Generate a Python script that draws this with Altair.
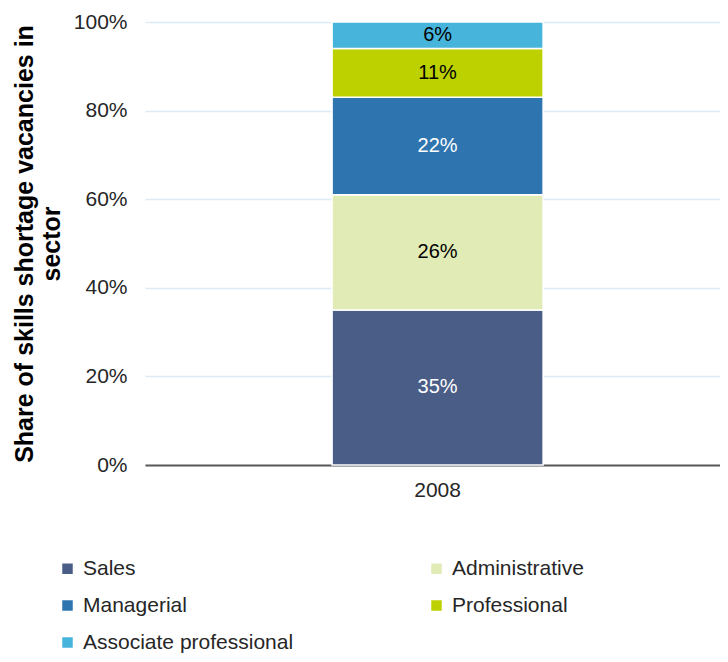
import altair as alt
import pandas as pd

years = ["2008"]
categories = ["Sales", "Administrative", "Managerial", "Professional", "Associate professional"]
values = [35, 26, 22, 11, 6]
colors = ["#4a5d87", "#e1ebb6", "#2e75b0", "#bdd100", "#47b4dc"]
label_colors = ["white", "black", "white", "black", "black"]

df = pd.DataFrame({
    "year": years * len(categories),
    "category": categories,
    "value": values,
    "order": list(range(len(categories))),
    "label": [f"{v}%" for v in values],
    "lc": label_colors,
})

FONT = "Liberation Sans"

base = alt.Chart(df).transform_stack(
    stack="value", groupby=["year"], as_=["y0", "y1"], sort=[alt.SortField("order")]
).transform_calculate(mid="(datum.y0 + datum.y1) / 2")

x_enc = alt.X("year:N", title=None,
              scale=alt.Scale(paddingInner=0, paddingOuter=0.8626, align=0.514),
              axis=alt.Axis(labelAngle=0, labelFontSize=21, labelColor="#262626",
                            labelPadding=14, ticks=False, domainColor="#595959",
                            domainWidth=2, labelFont=FONT))

bars = base.mark_bar(stroke="white", strokeWidth=1.5).encode(
    x=x_enc,
    y=alt.Y("y0:Q", title=["Share of skills shortage vacancies in", "sector"],
            scale=alt.Scale(domain=[0, 100]),
            axis=alt.Axis(values=[0, 20, 40, 60, 80, 100], labelExpr="datum.value + '%'",
                          labelFontSize=21, labelColor="#262626", labelFont=FONT,
                          labelPadding=18, ticks=False, domain=False,
                          gridColor="#dcebf6", gridWidth=1.5,
                          titleFontSize=25, titleFontWeight="bold", titleFont=FONT,
                          titleColor="#000000", titleX=-108, titleBaseline="bottom",
                          titleLineHeight=27)),
    y2="y1:Q",
    color=alt.Color("category:N",
                    scale=alt.Scale(domain=categories, range=colors),
                    legend=alt.Legend(title=None, orient="none", legendX=-88, legendY=536,
                                      direction="horizontal", columns=2, columnPadding=132,
                                      rowPadding=15, symbolType="square", symbolSize=110,
                                      symbolStrokeWidth=0, labelFontSize=21, labelFont=FONT,
                                      labelColor="#262626", labelOffset=5, labelLimit=400)),
    order=alt.Order("order:Q"),
)

labels = base.mark_text(fontSize=20, font=FONT).encode(
    x=alt.X("year:N"),
    y=alt.Y("mid:Q"),
    text="label:N",
    color=alt.Color("lc:N", scale=None),
)

chart = alt.layer(bars, labels).properties(
    width=575, height=443,
    autosize=alt.AutoSizeParams(type="none"),
    padding={"left": 137, "top": 14, "right": 0, "bottom": 188},
).configure_view(stroke=None)

chart.save("out.html", embed_options={"renderer": "svg", "actions": False})
